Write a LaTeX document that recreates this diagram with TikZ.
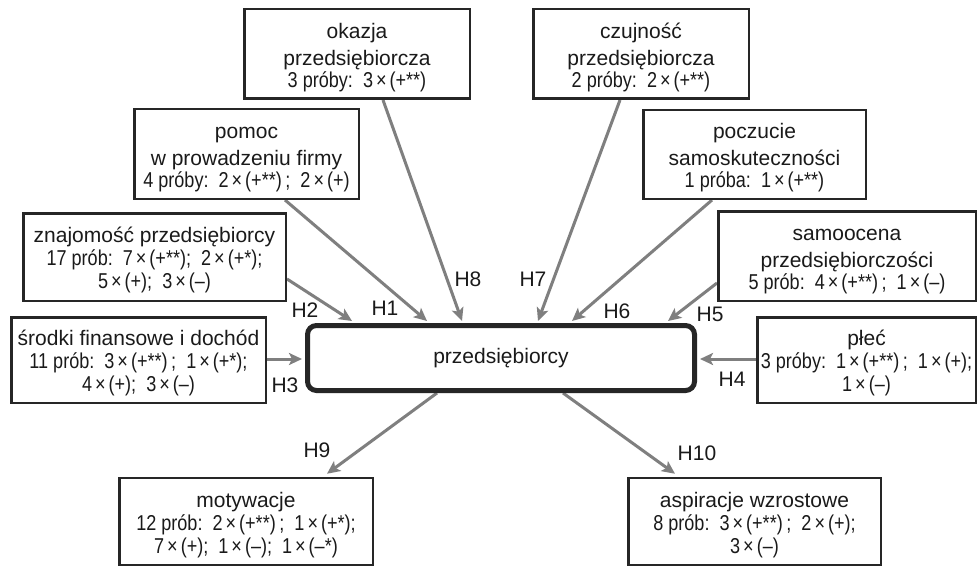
\documentclass[tikz,border=0pt]{standalone}
\usepackage{fontspec}
\setmainfont{Liberation Sans}
\newfontfamily\narrowsans[FakeStretch=0.84]{Liberation Sans}
\usetikzlibrary{arrows.meta,backgrounds}

\definecolor{boxline}{HTML}{262626}
\definecolor{arrowgray}{HTML}{7F7F7F}
\definecolor{inkgray}{HTML}{1A1A1A}

% title lines, count lines and the multiplication sign
\newcommand\ttl{\normalfont\fontsize{21}{27}\selectfont}
\newcommand\stl{\narrowsans\fontsize{21.5}{23}\selectfont}
\newcommand\tms{\hspace{0.14em}×\hspace{0.14em}}
% first line of a box, with a little extra room above it
\newcommand\topline[1]{{\ttl\rule{0pt}{22pt}#1}}

\tikzset{
  factor/.style={draw=boxline, line width=2.5pt, fill=white, text=inkgray,
    align=center, inner sep=0pt, font=\stl},
  core/.style={draw=boxline, line width=5pt, fill=white, text=inkgray,
    rounded corners=9pt, inner sep=0pt, font=\ttl},
  arr/.style={draw=arrowgray, line width=3pt,
    -{Stealth[length=13pt,width=12pt,inset=3pt]}},
  hlabel/.style={font=\fontsize{21}{23}\selectfont, text=inkgray, inner sep=0pt}
}

\begin{document}
\begin{tikzpicture}[x=1pt,y=-1pt]
\useasboundingbox (0,0) rectangle (979,567);

% central construct
\node[core, minimum width=387pt, minimum height=65pt] (cent) at (501,358)
  {przedsiębiorcy};

% antecedents
\node[factor, minimum width=225.5pt, minimum height=89.5pt] (okazja) at (357,54)
  {\topline{okazja}\\[4pt]{\ttl przedsiębiorcza}\\[-1pt]3 próby:\ \ 3\tms(+**)};
\node[factor, minimum width=215.5pt, minimum height=89.5pt] (czuj) at (641,54)
  {\topline{czujność}\\[4pt]{\ttl przedsiębiorcza}\\[-1pt]2 próby:\ \ 2\tms(+**)};
\node[factor, minimum width=224.5pt, minimum height=89.5pt] (pomoc) at (246.5,154)
  {\topline{pomoc}\\[4pt]{\ttl w prowadzeniu firmy}\\[-1pt]4 próby:\ \ 2\tms(+**)\,;\ \ 2\tms(+)};
\node[factor, minimum width=222.5pt, minimum height=88.5pt] (pocz) at (754.5,154.5)
  {\topline{poczucie}\\[4pt]{\ttl samoskuteczności}\\[-1pt]1 próba:\ \ 1\tms(+**)};
\node[factor, minimum width=262.5pt, minimum height=87.5pt] (znaj) at (154.5,257)
  {\topline{znajomość przedsiębiorcy}\\[0pt]17 prób:\ \ 7\tms(+**);\ \ 2\tms(+*);\\5\tms(+);\ \ 3\tms(–)};
\node[factor, minimum width=257.5pt, minimum height=89.5pt] (samo) at (847,256)
  {\topline{samoocena}\\[4pt]{\ttl przedsiębiorczości}\\[-1pt]5 prób:\ \ 4\tms(+**)\,;\ \ 1\tms(–)};
\node[factor, minimum width=254.5pt, minimum height=85.5pt] (srodki) at (138.5,360)
  {\topline{środki finansowe i dochód}\\[0pt]11 prób:\ \ 3\tms(+**)\,;\ \ 1\tms(+*);\\4\tms(+);\ \ 3\tms(–)};
\node[factor, minimum width=218.5pt, minimum height=85.5pt] (plec) at (866.5,360)
  {\topline{płeć}\\[0pt]3 próby:\ \ 1\tms(+**)\,;\ \ 1\tms(+);\\1\tms(–)};

% outcomes
\node[factor, minimum width=253.5pt, minimum height=87pt] (motyw) at (246,521.5)
  {\topline{motywacje}\\[0pt]12 prób:\ \ 2\tms(+**)\,;\ \ 1\tms(+*);\\7\tms(+);\ \ 1\tms(–);\ \ 1\tms(–*)};
\node[factor, minimum width=252.5pt, minimum height=87pt] (aspir) at (754.5,521.5)
  {\topline{aspiracje wzrostowe}\\[0pt]8 prób:\ \ 3\tms(+**)\,;\ \ 2\tms(+);\\3\tms(–)};

% hypothesis labels
\node[hlabel] (h1) at (385,308) {H1};
\node[hlabel] (h2) at (305,310) {H2};
\node[hlabel] (h3) at (285,385) {H3};
\node[hlabel] (h4) at (732,379) {H4};
\node[hlabel] (h5) at (710,314) {H5};
\node[hlabel] (h6) at (617,311) {H6};
\node[hlabel] (h7) at (533,279) {H7};
\node[hlabel] (h8) at (468,279) {H8};
\node[hlabel] (h9) at (317,450) {H9};
\node[hlabel] (h10) at (697,453) {H10};

% connectors run underneath the boxes
\begin{scope}[on background layer]
  \fill[white] (0,0) rectangle (979,567);
  \draw[arr] ([xshift=38.5pt]pomoc.south) -- ([xshift=-74pt,yshift=2pt]cent.north);
  \draw[arr] ([yshift=-22pt]znaj.east) -- ([xshift=-149pt,yshift=2pt]cent.north);
  \draw[arr] ([yshift=1pt]srodki.east) -- ([xshift=-3pt,yshift=-1pt]cent.west);
  \draw[arr] ([yshift=1pt]plec.west) -- ([xshift=3pt,yshift=-1pt]cent.east);
  \draw[arr] ([yshift=-27pt]samo.west) -- ([xshift=167pt,yshift=2pt]cent.north);
  \draw[arr] ([xshift=-42.5pt]pocz.south) -- ([xshift=71pt,yshift=2pt]cent.north);
  \draw[arr] ([xshift=-21pt]czuj.south) -- ([xshift=37pt,yshift=2pt]cent.north);
  \draw[arr] ([xshift=26pt]okazja.south) -- ([xshift=-39pt,yshift=2pt]cent.north);
  \draw[arr] ([xshift=-64pt]cent.south) -- ([xshift=81pt,yshift=3pt]motyw.north);
  \draw[arr] ([xshift=62pt]cent.south) -- ([xshift=-79.5pt,yshift=3pt]aspir.north);
\end{scope}
\end{tikzpicture}
\end{document}
